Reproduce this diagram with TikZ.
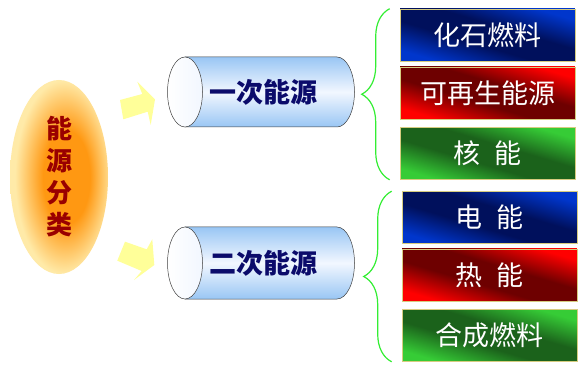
\documentclass[tikz,border=0pt]{standalone}
\usepackage{fontspec}
\setmainfont{Noto Sans CJK SC}
\usepackage{tikz}
\usetikzlibrary{shapes.geometric,calc}
\usetikzlibrary{decorations.pathreplacing}

\definecolor{rootorange}{HTML}{FF9812}
\definecolor{rootpale}{HTML}{FFEAA8}
\definecolor{rootred}{HTML}{990000}
\definecolor{arrowyellow}{HTML}{FFFF99}
\definecolor{cylblue}{HTML}{99C6F4}
\definecolor{cyllight}{HTML}{F2F7FF}
\definecolor{cylline}{HTML}{404040}
\definecolor{cyltext}{HTML}{0B0B6B}
\definecolor{bracegreen}{HTML}{33EE33}
\definecolor{boxline}{HTML}{D6CC80}
\definecolor{bluelight}{HTML}{0036CC}
\definecolor{bluedark}{HTML}{00105C}
\definecolor{redlight}{HTML}{FF0000}
\definecolor{reddark}{HTML}{6E0000}
\definecolor{greenlight}{HTML}{36CC36}
\definecolor{greendark}{HTML}{1B621B}

\pgfdeclareradialshading{rootglow}{\pgfpoint{5bp}{0bp}}{color(0bp)=(rootorange); color(12bp)=(rootorange); color(25bp)=(rootpale); color(50bp)=(rootpale)}
% diagonal fills for the source boxes
\pgfdeclareverticalshading{bluediag}{100bp}{color(0bp)=(bluelight); color(22bp)=(bluelight); color(42bp)=(bluedark); color(58bp)=(bluedark); color(78bp)=(bluelight); color(100bp)=(bluelight)}
\pgfdeclareverticalshading{reddiag}{100bp}{color(0bp)=(redlight); color(22bp)=(redlight); color(42bp)=(reddark); color(58bp)=(reddark); color(78bp)=(redlight); color(100bp)=(redlight)}
\pgfdeclareverticalshading{greendiag}{100bp}{color(0bp)=(greenlight); color(22bp)=(greenlight); color(42bp)=(greendark); color(58bp)=(greendark); color(78bp)=(greenlight); color(100bp)=(greenlight)}

% square shade stretched to a 175x52 box
\newcommand\boxshade[2]{%
  \begin{scope}[transform canvas={shift={(#1)}, xscale=3.365}]
    \shade[shading=#2, shading angle=-45] (-26pt,-26pt) rectangle (26pt,26pt);
  \end{scope}}

\tikzset{
rootnode/.style = {ellipse, minimum width=98pt, minimum height=194pt, inner sep=0pt,
  shading=rootglow, text=rootred, align=center,
  font=\bfseries\fontsize{26}{32}\selectfont},
cylbody/.style = {draw=cylline, line width=0.5pt, top color=cylblue, bottom color=cylblue, middle color=cyllight},
cylcap/.style = {draw=cylline, line width=0.5pt, left color=white, right color=cyllight},
cyltext/.style = {text=cyltext, font=\bfseries\fontsize{27}{27}\selectfont},
srcbox/.style = {rectangle, draw=boxline, line width=0.6pt, minimum width=175pt, minimum height=52pt,
  inner sep=0pt, text=white, font=\fontsize{27}{27}\selectfont},
curly/.style = {draw=bracegreen, line width=1.2pt, decorate, decoration={brace, amplitude=28pt}}
}

\begin{document}
\begin{tikzpicture}[x=1pt, y=-1pt]
  \fill[white] (0,0) rectangle (581,382);
  \useasboundingbox (0,0) rectangle (581,382);

  % classification
  \node [rootnode] (root) at (59,177) {能\\源\\分\\类};

  % arrows
  \fill[arrowyellow] (120,100) -- (142.3,94) -- (137.3,81.7) -- (155,99.3)
    -- (150.7,125) -- (147.7,111.7) -- (123.3,119.3) -- cycle;
  \fill[arrowyellow] (125,241.7) -- (146.7,249.3) -- (152.3,239.3) -- (154.3,265)
    -- (134,280) -- (141.7,271) -- (117.3,260.7) -- cycle;

  % cylinders
  \path[cylbody] (185,57) -- (337,57) arc[start angle=90, end angle=-90, x radius=17.5pt, y radius=35pt]
    -- (185,127) -- cycle;
  \path[cylcap] (185,92) ellipse [x radius=17.5pt, y radius=35pt];
  \node [cyltext] (prim) at (263,92) {一次能源};

  \path[cylbody] (185,227) -- (337,227) arc[start angle=90, end angle=-90, x radius=17.5pt, y radius=36pt]
    -- (185,299) -- cycle;
  \path[cylcap] (185,263) ellipse [x radius=17.5pt, y radius=36pt];
  \node [cyltext] (sec) at (263,263) {二次能源};

  % sources
  \coordinate (c1) at (487.5,35);
  \coordinate (c2) at (487.5,93);
  \coordinate (c3) at (487.5,153.5);
  \coordinate (c4) at (489.5,217.5);
  \coordinate (c5) at (489.5,275);
  \coordinate (c6) at (489.5,335.5);
  \boxshade{c1}{bluediag}
  \boxshade{c2}{reddiag}
  \boxshade{c3}{greendiag}
  \boxshade{c4}{bluediag}
  \boxshade{c5}{reddiag}
  \boxshade{c6}{greendiag}

  \node [srcbox] (fossil)  at (c1) {化石燃料};
  \node [srcbox] (renew)   at (c2) {可再生能源};
  \node [srcbox] (nuclear) at (c3) {核\hspace{0.5em}能};

  \node [srcbox] (elec)  at (c4) {电\hspace{0.5em}能};
  \node [srcbox] (heat)  at (c5) {热\hspace{0.5em}能};
  \node [srcbox] (synth) at (c6) {合成燃料};

  % braces
  \draw[curly] ($(nuclear.south west)+(-10,0)$) -- ($(fossil.north west)+(-10,0)$);
  \draw[curly] ($(synth.south west)+(-10,0)$) -- ($(elec.north west)+(-10,0)$);
\end{tikzpicture}
\end{document}
